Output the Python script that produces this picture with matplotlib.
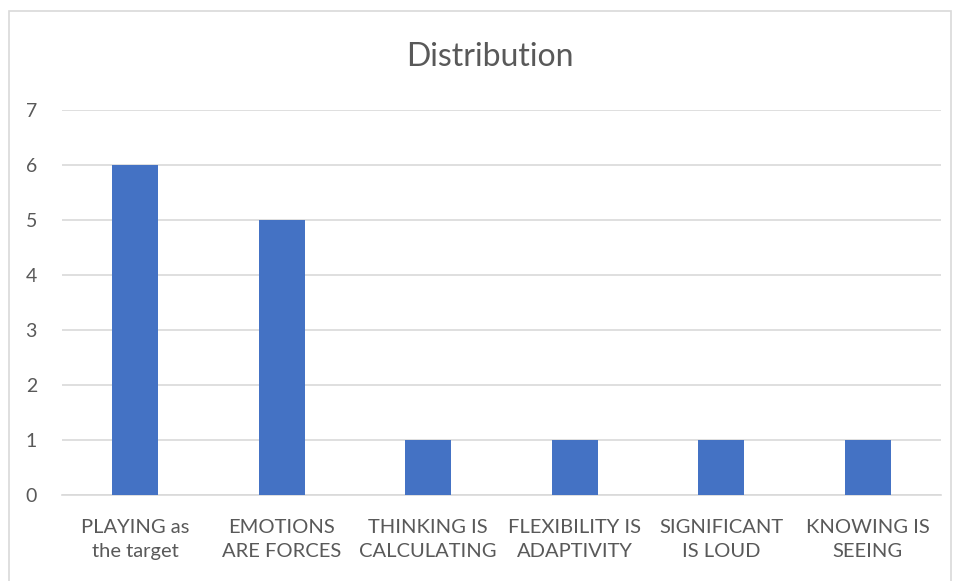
import matplotlib
matplotlib.use("Agg")
import matplotlib.pyplot as plt
from matplotlib.patches import Rectangle

# chart data
categories = ["PLAYING as\nthe target", "EMOTIONS\nARE FORCES", "THINKING IS\nCALCULATING",
              "FLEXIBILITY IS\nADAPTIVITY", "SIGNIFICANT\nIS LOUD", "KNOWING IS\nSEEING"]
counts = [6, 5, 1, 1, 1, 1]
yticks = [0, 1, 2, 3, 4, 5, 6, 7]

W, H = 958, 581
plt.rcParams['font.family'] = ['Lato', 'DejaVu Sans']

fig = plt.figure(figsize=(W / 100, H / 100), dpi=100)
# plot area in pixels: x 62..941, y 110..495
ax = fig.add_axes([62 / W, 1 - 495 / H, (941 - 62) / W, (495 - 110) / H])

x = range(len(categories))
ax.bar(x, counts, width=0.315, color="#4472C4", zorder=3)

ax.set_xlim(-0.5, len(categories) - 0.5)
ax.set_ylim(0, 7)
ax.set_yticks(yticks)
ax.set_xticks(list(x))
ax.set_xticklabels(categories, fontsize=14.5, color="#595959", linespacing=1.5)
ax.tick_params(axis="y", labelsize=14, labelcolor="#595959", length=0, pad=18)
ax.tick_params(axis="x", length=0, pad=17)
ax.grid(axis="y", color="#D9D9D9", linewidth=1.2, zorder=0)
for s in ["top", "right", "left"]:
    ax.spines[s].set_visible(False)
ax.spines["bottom"].set_color("#D9D9D9")
ax.spines["bottom"].set_linewidth(1.2)

fig.text(490 / W, 1 - 57 / H, "Distribution", ha="center", va="center",
         fontsize=23, color="#595959")

# outer chart border
fig.patches.append(Rectangle((9 / W, -0.01), (951 - 9) / W, 1 - 11 / H + 0.01,
                             transform=fig.transFigure, fill=False,
                             edgecolor="#D9D9D9", linewidth=1.2))

fig.savefig("out.png", dpi=100)
